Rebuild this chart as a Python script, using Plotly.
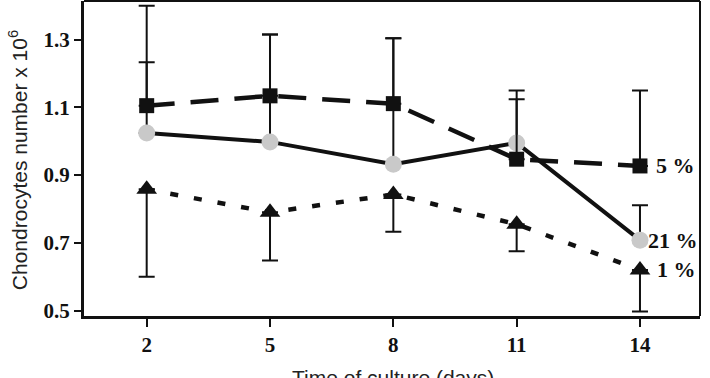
import plotly.graph_objects as go

days = [2, 5, 8, 11, 14]
tick_vals_y = [0.5, 0.7, 0.9, 1.1, 1.3]

o5 = [1.105, 1.134, 1.111, 0.947, 0.927]
o5_upper = [1.400, 1.315, 1.304, 1.150, 1.150]

o21 = [1.024, 0.998, 0.932, 0.995, 0.708]
o21_upper = [1.233, 1.315, 1.304, 1.124, 0.811]

o1 = [0.858, 0.790, 0.843, 0.755, 0.620]
o1_lower = [0.600, 0.648, 0.733, 0.675, 0.497]

labels = ["5 %", "21 %", "1 %"]

plus5 = [u - m for u, m in zip(o5_upper, o5)]
plus21 = [u - m for u, m in zip(o21_upper, o21)]
minus1 = [m - l for l, m in zip(o1_lower, o1)]

fig = go.Figure()

err_style = dict(color="#111", thickness=2, width=8)

fig.add_trace(go.Scatter(
    x=days, y=o21, mode="lines+markers", name="21 %",
    line=dict(color="#111", width=4),
    marker=dict(symbol="circle", size=17, color="#c9c9c9"),
    error_y=dict(type="data", symmetric=False, array=plus21,
                 arrayminus=[0] * len(days), **err_style),
))
fig.add_trace(go.Scatter(
    x=days, y=o1, mode="lines+markers", name="1 %",
    line=dict(color="#111", width=4.5, dash="8px,16px"),
    marker=dict(symbol="triangle-up", size=18, color="#111"),
    error_y=dict(type="data", symmetric=False, array=[0] * len(days),
                 arrayminus=minus1, **err_style),
))
fig.add_trace(go.Scatter(
    x=days, y=o5, mode="lines+markers", name="5 %",
    line=dict(color="#111", width=4.5, dash="28px,16px"),
    marker=dict(symbol="square", size=15, color="#111"),
    error_y=dict(type="data", symmetric=False, array=plus5,
                 arrayminus=[0] * len(days), **err_style),
))

label_font = dict(family="Liberation Serif", size=22, color="#111", weight="bold")
ann = [
    dict(x=14.33, y=o5[-1], text=labels[0]),
    dict(x=14.15, y=o21[-1], text=labels[1]),
    dict(x=14.37, y=o1[-1], text=labels[2]),
]
annotations = [dict(a, xref="x", yref="y", xanchor="left", yanchor="middle",
                    showarrow=False, font=label_font) for a in ann]

annotations.append(dict(
    text="Chondrocytes number x 10<sup>6</sup>", textangle=-90,
    xref="paper", yref="paper", x=-0.107, y=0.495,
    xanchor="center", yanchor="middle", showarrow=False,
    font=dict(family="Liberation Sans", size=21, color="#222"),
))
annotations.append(dict(
    text="Time of culture (days)", xref="x", yref="paper", x=8, y=-0.152,
    xanchor="center", yanchor="top", showarrow=False,
    font=dict(family="Liberation Sans", size=21, color="#222"),
))

tickfont = dict(family="Liberation Serif", size=21, color="#111", weight="bold")

fig.update_layout(
    width=710, height=378,
    margin=dict(l=84, r=10, t=1, b=62),
    paper_bgcolor="white", plot_bgcolor="white",
    showlegend=False,
    annotations=annotations,
    shapes=[
        dict(type="line", xref="paper", yref="paper", x0=0, x1=1, y0=1, y1=1,
             line=dict(color="#111", width=2)),
        dict(type="line", xref="paper", yref="paper", x0=1, x1=1, y0=0, y1=1,
             line=dict(color="#111", width=2)),
    ],
    xaxis=dict(range=[0.475, 15.46], tickvals=days, ticks="outside", ticklen=8,
               tickwidth=2, tickcolor="#111", showline=True, linewidth=3,
               linecolor="#111", showgrid=False, zeroline=False,
               tickfont=tickfont),
    yaxis=dict(range=[0.484, 1.414], tickvals=tick_vals_y,
               ticktext=[f"{v:.1f}" for v in tick_vals_y],
               ticks="outside", ticklen=7, tickwidth=2, tickcolor="#111",
               showline=True, linewidth=3, linecolor="#111",
               showgrid=False, zeroline=False, tickfont=tickfont),
)

fig.write_html("out.html")
